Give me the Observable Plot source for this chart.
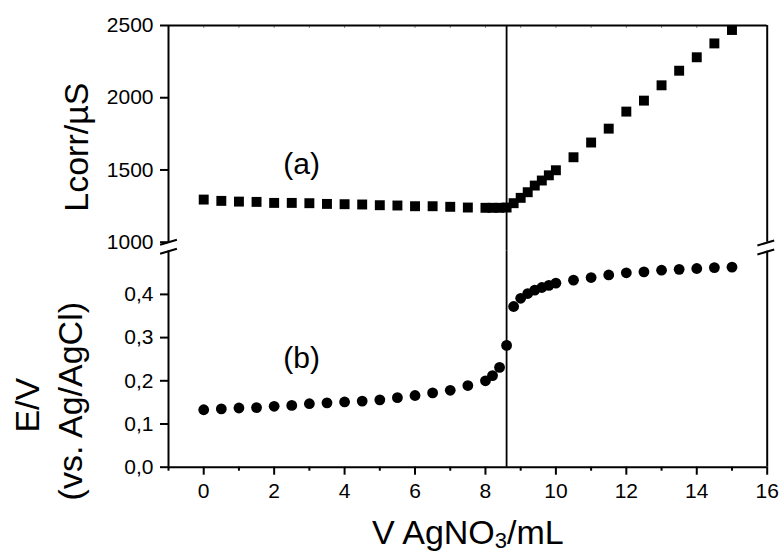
<!DOCTYPE html>
<html><head><meta charset="utf-8">
<script src="https://cdn.jsdelivr.net/npm/d3@7"></script>
<script src="https://cdn.jsdelivr.net/npm/@observablehq/plot@0.6"></script>
<style>
body{margin:0;background:#fff;}
#chart{position:relative;width:779px;height:553px;background:#fff;}
#chart svg{position:absolute;left:0;top:0;}
</style></head><body><div id="chart"></div>
<script>
// ---- data ----
const volume = [0,0.5,1,1.5,2,2.5,3,3.5,4,4.5,5,5.5,6,6.5,7,7.5,8,8.2,8.4,8.6,8.8,9.0,9.2,9.4,9.6,9.8,10,10.5,11,11.5,12,12.5,13,13.5,14,14.5,15];
const conductance = [1295,1286,1281,1279,1272,1272,1270,1265,1263,1261,1256,1254,1249,1249,1245,1240,1238,1238,1238,1240,1270,1307,1346,1392,1427,1463,1498,1588,1690,1786,1904,1980,2086,2187,2280,2376,2469];
const potential = [0.133,0.135,0.137,0.138,0.141,0.143,0.147,0.149,0.151,0.153,0.156,0.161,0.166,0.172,0.178,0.189,0.200,0.212,0.231,0.282,0.372,0.391,0.402,0.410,0.416,0.421,0.426,0.433,0.439,0.445,0.450,0.452,0.456,0.458,0.460,0.462,0.463];
const endpoint = [8.6];
const xTicks = [0,2,4,6,8,10,12,14,16];
const xMinorTicks = [-1,1,3,5,7,9,11,13,15];
const xTopTicks = [0,1,2,3,4,5,6,7,8,9,10,11,12,13,14,15];
const condTicks = [1000,1500,2000,2500];
const potTicks = [0,0.1,0.2,0.3,0.4];
const xDomain = [-1,16];
const condDomain = [1000,2500];
const potDomain = [0,0.5];
const labelA = [{x:2.78, y:1537, text:"(a)"}];
const labelB = [{x:2.78, y:0.252, text:"(b)"}];

const cond = volume.map((v,i)=>({v, L:conductance[i]}));
const pot = volume.map((v,i)=>({v, E:potential[i]}));

const W=779, H=553, ML=168, MR=W-766.7;
const FONT = "'Liberation Sans', Arial, Helvetica, sans-serif";
const baseStyle = {background:"transparent", fontFamily: FONT, color:"black", overflow:"visible"};
const topFrameH = 241.7 - 25;

const breakSymbol = {draw(ctx){ ctx.moveTo(-8.4,-2); ctx.lineTo(8.4,-7); ctx.moveTo(-8.4,7); ctx.lineTo(8.4,2); }};

const topPlot = Plot.plot({
  width: W, height: H, marginLeft: ML, marginRight: MR, marginTop: 25, marginBottom: H-241.7,
  style: baseStyle,
  x: {domain: xDomain, axis: null},
  y: {domain: condDomain},
  marks: [
    Plot.tickX(xTopTicks, {x: d=>d, insetBottom: topFrameH - 3, stroke: "#888", strokeWidth: 1}),
    Plot.ruleY([condDomain[1]], {strokeWidth: 2}),
    Plot.ruleX(xDomain, {strokeWidth: 2}),
    Plot.ruleX(endpoint, {strokeWidth: 1.8, insetBottom: -9}),
    Plot.axisY(condTicks, {tickSize: 8, tickPadding: 7, fontSize: 21, strokeWidth: 2, label: null, tickFormat: d=>String(d)}),
    Plot.dot(cond, {x:"v", y:"L", symbol:"square", r:5.6, fill:"black"}),
    Plot.text(labelA, {x:"x", y:"y", text:"text", fontSize:30}),
    Plot.text(["Lcorr/µS"], {frameAnchor:"left", textAnchor:"middle", rotate:-90, dx:-80.7, dy:13.3, lineAnchor:"bottom", fontSize:34})
  ]
});

const botPlot = Plot.plot({
  width: W, height: H, marginLeft: ML, marginRight: MR, marginTop: 250.7, marginBottom: H-466.7,
  style: baseStyle,
  x: {domain: xDomain},
  y: {domain: potDomain},
  marks: [
    Plot.ruleY([potDomain[0]], {strokeWidth: 2}),
    Plot.ruleX(xDomain, {strokeWidth: 2}),
    Plot.ruleX(endpoint, {strokeWidth: 1.8}),
    Plot.axisY(potTicks, {tickSize: 8, tickPadding: 7, fontSize: 21, strokeWidth: 2, label: null, tickFormat: d=>d.toFixed(1).replace(".", ",")}),
    Plot.axisX(xTicks, {tickSize: 8, tickPadding: 8, fontSize: 21, strokeWidth: 2, label: null, tickFormat: d=>String(d)}),
    Plot.axisX(xMinorTicks, {tickSize: 4, strokeWidth: 2, label: null, tickFormat: ()=>""}),
    Plot.dot(pot, {x:"v", y:"E", r:5.4, fill:"black"}),
    Plot.text(labelB, {x:"x", y:"y", text:"text", fontSize:30}),
    Plot.dot([0], {frameAnchor:"top-left", symbol: breakSymbol, stroke:"black", strokeWidth:2, fill:"none", dy:-4.4}),
    Plot.dot([0], {frameAnchor:"top-right", symbol: breakSymbol, stroke:"black", strokeWidth:2, fill:"none", dx:-1.4, dy:-3.7}),
    Plot.text(["E/V"], {frameAnchor:"left", textAnchor:"middle", rotate:-90, dx:-129.7, dy:46, lineAnchor:"bottom", fontSize:34}),
    Plot.text(["(vs. Ag/AgCl)"], {frameAnchor:"left", textAnchor:"middle", rotate:-90, dx:-86.3, dy:42, lineAnchor:"bottom", fontSize:34}),
    Plot.text(["V AgNO₃/mL"], {frameAnchor:"bottom", textAnchor:"middle", dy:77, lineAnchor:"bottom", fontSize:34})
  ]
});

const chart = document.getElementById("chart");
chart.appendChild(topPlot);
chart.appendChild(botPlot);

// render the subscript in the x-axis title
botPlot.querySelectorAll("text").forEach(t => {
  if (t.textContent === "V AgNO₃/mL") {
    t.textContent = "";
    const ns = "http://www.w3.org/2000/svg";
    const a = document.createElementNS(ns, "tspan"); a.textContent = "V AgNO";
    const b = document.createElementNS(ns, "tspan"); b.textContent = "3"; b.setAttribute("font-size", "22"); b.setAttribute("dy", "4");
    const c = document.createElementNS(ns, "tspan"); c.textContent = "/mL"; c.setAttribute("dy", "-4");
    t.append(a, b, c);
  }
});
</script></body></html>
